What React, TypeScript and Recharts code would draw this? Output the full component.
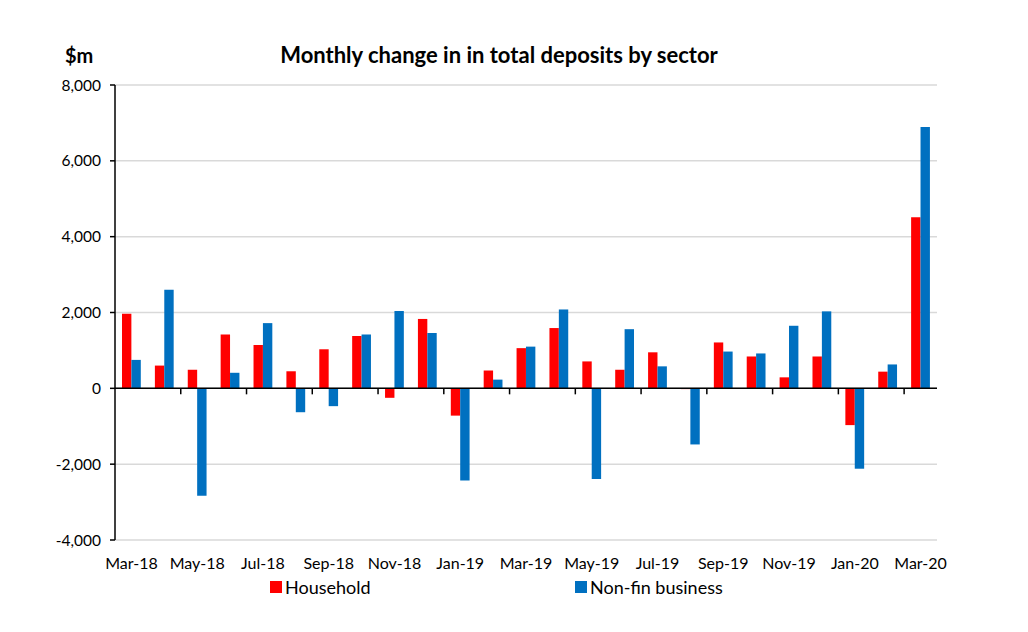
import React from "react";
import {
  BarChart,
  Bar,
  XAxis,
  YAxis,
  CartesianGrid,
  ReferenceLine,
} from "recharts";

const months = [
  "Mar-18", "Apr-18", "May-18", "Jun-18", "Jul-18", "Aug-18", "Sep-18",
  "Oct-18", "Nov-18", "Dec-18", "Jan-19", "Feb-19", "Mar-19", "Apr-19",
  "May-19", "Jun-19", "Jul-19", "Aug-19", "Sep-19", "Oct-19", "Nov-19",
  "Dec-19", "Jan-20", "Feb-20", "Mar-20",
];

const household = [
  1970, 600, 490, 1420, 1140, 450, 1030, 1380, -250, 1830, -720, 470, 1060,
  1590, 710, 490, 950, -20, 1210, 840, 290, 840, -970, 440, 4510,
];

const nonFinBusiness = [
  750, 2600, -2830, 410, 1720, -630, -470, 1420, 2040, 1460, -2430, 230, 1100,
  2080, -2390, 1560, 580, -1480, 970, 920, 1650, 2030, -2120, 630, 6890,
];

const yTicks = [-4000, -2000, 0, 2000, 4000, 6000, 8000];

const series = [
  { key: "household", name: "Household", color: "#ff0000" },
  { key: "nonFin", name: "Non-fin business", color: "#0070c0" },
];

const data = months.map((month, i) => ({
  month,
  household: household[i],
  nonFin: nonFinBusiness[i],
}));

// layout
const W = 1028;
const H = 632;
const PLOT_LEFT = 115;
const PLOT_RIGHT = 937;
const PLOT_TOP = 85;
const PLOT_BOTTOM = 540;
const Y_AXIS_W = 60;
const X_AXIS_H = 40;
const FONT = "Lato, 'Open Sans', sans-serif";

const band = (PLOT_RIGHT - PLOT_LEFT) / months.length;
const zeroY = PLOT_TOP + ((PLOT_BOTTOM - PLOT_TOP) * 8000) / 12000;

// labels every other month, small tick marks on the zero line between pairs
const MonthTick = (props: any) => {
  const { x, y, index, payload } = props;
  return (
    <g>
      {index % 2 === 1 && (
        <line
          x1={x + band / 2}
          x2={x + band / 2}
          y1={zeroY}
          y2={zeroY + 6}
          stroke="#000"
          strokeWidth={1.5}
        />
      )}
      {index % 2 === 0 && (
        <text
          x={x}
          y={y + 21}
          textAnchor="middle"
          fontSize={16}
          fontFamily={FONT}
          fill="#000"
        >
          {payload.value}
        </text>
      )}
    </g>
  );
};

export default function App() {
  return (
    <div style={{ position: "absolute", left: 0, top: 0, width: W, height: H, background: "#fff" }}>
      <div
        style={{
          position: "absolute",
          left: 0,
          width: W - 30,
          top: 41,
          textAlign: "center",
          fontFamily: FONT,
          fontWeight: 700,
          fontSize: 22,
          color: "#000",
        }}
      >
        Monthly change in in total deposits by sector
      </div>
      <div
        style={{
          position: "absolute",
          left: 65,
          top: 43,
          fontFamily: FONT,
          fontWeight: 700,
          fontSize: 20,
          color: "#000",
        }}
      >
        $m
      </div>
      <BarChart
        width={W}
        height={H}
        data={data}
        barSize={9.4}
        barGap={0}
        margin={{
          top: PLOT_TOP,
          left: PLOT_LEFT - Y_AXIS_W,
          right: W - PLOT_RIGHT,
          bottom: H - PLOT_BOTTOM - X_AXIS_H,
        }}
      >
        <CartesianGrid vertical={false} stroke="#d9d9d9" strokeWidth={1.5} />
        <XAxis
          dataKey="month"
          interval={0}
          height={X_AXIS_H}
          axisLine={false}
          tickLine={false}
          tick={<MonthTick />}
        />
        <YAxis
          width={Y_AXIS_W}
          domain={[-4000, 8000]}
          ticks={yTicks}
          allowDataOverflow
          axisLine={{ stroke: "#000", strokeWidth: 1.5 }}
          tickLine={{ stroke: "#000", strokeWidth: 1.5 }}
          tickSize={5}
          tickMargin={9}
          tick={{ fontSize: 15.5, fontFamily: FONT, fill: "#000" }}
          tickFormatter={(v: number) => v.toLocaleString("en-US")}
        />
        {series.map((s) => (
          <Bar
            key={s.key}
            dataKey={s.key}
            name={s.name}
            fill={s.color}
            isAnimationActive={false}
          />
        ))}
        <ReferenceLine y={0} stroke="#000" strokeWidth={1.5} />
      </BarChart>
      {series.map((s, i) => (
        <div
          key={s.key}
          style={{
            position: "absolute",
            left: i === 0 ? 270 : 575,
            top: 576,
            display: "flex",
            alignItems: "center",
            whiteSpace: "nowrap",
            fontFamily: FONT,
            fontSize: 18,
            color: "#000",
          }}
        >
          <span
            style={{
              display: "inline-block",
              width: 12,
              height: 12,
              background: s.color,
              marginRight: 3,
            }}
          />
          {s.name}
        </div>
      ))}
    </div>
  );
}
